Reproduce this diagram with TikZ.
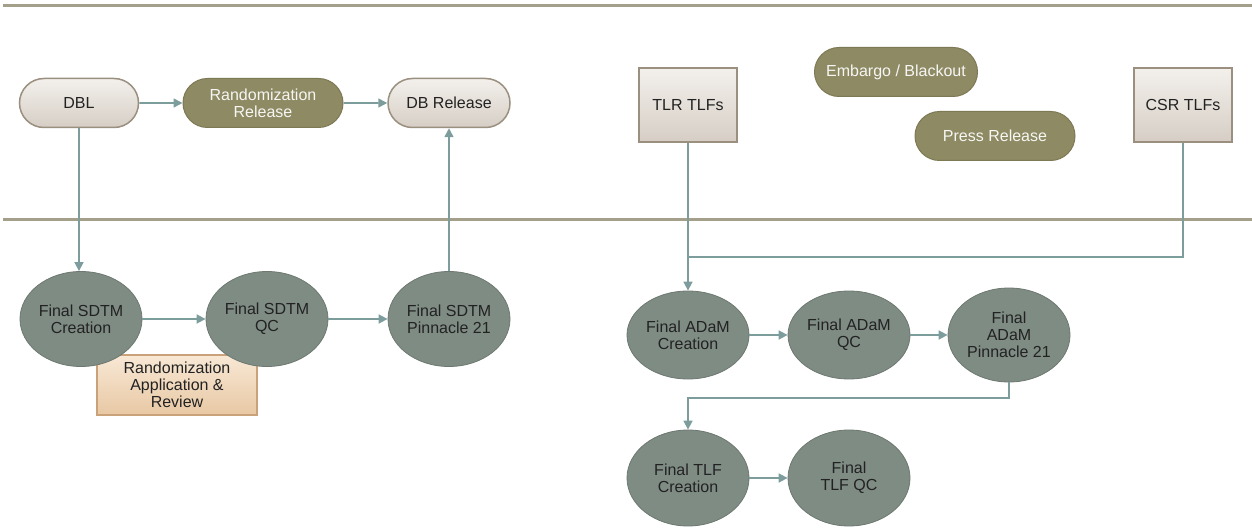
\documentclass[tikz,border=0pt]{standalone}
\usepackage{fontspec}
\setmainfont{Liberation Sans}
\usetikzlibrary{arrows.meta,shapes.geometric,shapes.misc}
\definecolor{rule}{HTML}{A39F8A}
\definecolor{olive}{HTML}{8E8A64}
\definecolor{olivedark}{HTML}{7D7955}
\definecolor{ell}{HTML}{7F8C84}
\definecolor{elldark}{HTML}{6C7870}
\definecolor{conn}{HTML}{7D9C9C}
\definecolor{greytop}{HTML}{F3F0EC}
\definecolor{greybot}{HTML}{D6CEC5}
\definecolor{greyedge}{HTML}{9B9080}
\definecolor{peachtop}{HTML}{F8E8D5}
\definecolor{peachbot}{HTML}{E8C8A4}
\definecolor{peachedge}{HTML}{C9A27A}
\definecolor{txt}{HTML}{222222}
\tikzset{
  base/.style={font=\fontsize{16}{17}\selectfont, align=center, text=txt, inner sep=0pt},
  pill/.style={base, rounded rectangle, minimum width=#1, minimum height=49, top color=greytop, bottom color=greybot, draw=greyedge, line width=1.5},
  olivepill/.style={base, rounded rectangle, minimum width=#1, minimum height=49, fill=olive, draw=olivedark, line width=1, text=white!92!olive},
  sqbox/.style={base, rectangle, minimum width=98, minimum height=74, top color=greytop, bottom color=greybot, draw=greyedge, line width=2},
  peach/.style={base, rectangle, minimum width=160, minimum height=60, top color=peachtop, bottom color=peachbot, draw=peachedge, line width=2},
  ellnode/.style={base, ellipse, minimum width=122, minimum height=#1, fill=ell, draw=elldark, line width=0.8},
  conn/.style={draw=conn, line width=1.6, -{Triangle[length=9,width=9]}},
  connline/.style={draw=conn, line width=1.6},
  sep/.style={draw=rule, line width=3}
}
\begin{document}
\begin{tikzpicture}[x=1pt,y=-1pt]
\useasboundingbox (0,0) rectangle (1252,529);
\fill[white] (0,0) rectangle (1252,529);
% separator lines
\coordinate (t1) at (3,6);
\coordinate (t2) at (1252,6);
\coordinate (m1) at (3,220);
\coordinate (m2) at (1252,220);
\draw[sep] (t1) -- (t2);
\draw[sep] (m1) -- (m2);

% top row
\node[pill=119] (dbl) at (79,103) {DBL};
\node[olivepill=160] (rr) at (263,103) {Randomization\\Release};
\node[pill=122] (dbr) at (449,103) {DB Release};

\node[sqbox] (tlr) at (688,105) {TLR TLFs};
\node[olivepill=163] (emb) at (896,72) {Embargo / Blackout};
\node[olivepill=160] (press) at (995,136) {Press Release};
\node[sqbox] (csr) at (1183,105) {CSR TLFs};

% bottom left
\node[peach] (rand) at (177,385) {Randomization\\Application \&\\Review};
\node[ellnode=95] (sc) at (81,319) {Final SDTM\\Creation};
\node[ellnode=95] (sq) at (267,319) {Final SDTM\\QC};
\node[ellnode=95] (sp) at (449,319) {Final SDTM\\Pinnacle 21};

% bottom right
\node[ellnode=88] (ac) at (688,335) {Final ADaM\\Creation};
\node[ellnode=88] (aq) at (849,335) {Final ADaM\\QC};
\node[ellnode=94] (ap) at (1009,335) {Final\\ADaM\\Pinnacle 21};
\node[ellnode=96] (tc) at (688,478) {Final TLF\\Creation};
\node[ellnode=96] (tq) at (849,478) {Final\\TLF QC};

% connectors top
\draw[conn] (dbl) -- (rr);
\draw[conn] (rr) -- (dbr);
\draw[conn] (dbl.south) -- (dbl.south |- sc.north);
\draw[conn] (sp.north) -- (dbr.south);
\draw[conn] (sc) -- (sq);
\draw[conn] (sq) -- (sp);

% TLF connectors
\coordinate (j) at (688,257);
\draw[connline] (csr.south) |- (j);
\draw[conn] (tlr.south) -- (ac.north);
\draw[conn] (ac) -- (aq);
\draw[conn] (aq) -- (ap);
\coordinate (k) at (1009,398);
\draw[conn] (ap.south) -- (k) -| (tc.north);
\draw[conn] (tc) -- (tq);
\end{tikzpicture}
\end{document}
